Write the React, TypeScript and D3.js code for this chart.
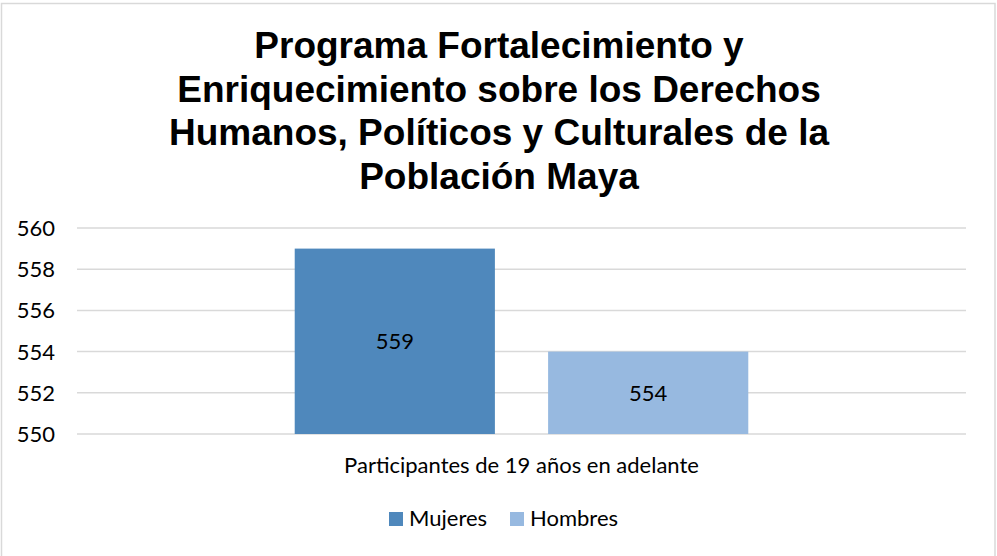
import React from 'react';
import * as d3 from 'd3';

// Chart data
const CATEGORIES = ['Participantes de 19 años en adelante'];
const SERIES = ['Mujeres', 'Hombres'];
const VALUES = [559, 554];
const Y_TICKS = [550, 552, 554, 556, 558, 560];
const TITLE_LINES = [
  'Programa Fortalecimiento y',
  'Enriquecimiento sobre los Derechos',
  'Humanos, Políticos y Culturales de la',
  'Población Maya',
];

const COLORS = ['#4f88bc', '#97b9e0'];

const W = 997;
const H = 556;
const LABEL_FONT = 'Lato, "Open Sans", sans-serif';
const TITLE_FONT = '"Liberation Sans", Arimo, Arial, Helvetica, sans-serif';

const App: React.FC = () => {
  const plot = { left: 77, right: 966, top: 228, bottom: 434 };

  const y = d3.scaleLinear().domain([550, 560]).range([plot.bottom, plot.top]);

  const x0 = d3
    .scaleBand<string>()
    .domain(CATEGORIES)
    .range([plot.left, plot.right])
    .paddingInner(0)
    .paddingOuter(0.48);

  const x1 = d3
    .scaleBand<string>()
    .domain(SERIES)
    .range([0, x0.bandwidth()])
    .paddingInner(0.21)
    .paddingOuter(0);

  const color = d3.scaleOrdinal<string>().domain(SERIES).range(COLORS);

  const catX = (x0(CATEGORIES[0]) ?? 0) + x0.bandwidth() / 2;

  // Legend layout
  const legend = [
    { name: SERIES[0], x: 389 },
    { name: SERIES[1], x: 510 },
  ];

  return (
    <svg
      width={W}
      height={H}
      style={{ position: 'absolute', left: 0, top: 0, background: '#fff' }}
    >
      <rect x={1.5} y={3.5} width={993.5} height={560} fill="#fff" stroke="#d9d9d9" strokeWidth={1.5} />

      {/* Title */}
      <text
        textAnchor="middle"
        fontFamily={TITLE_FONT}
        fontWeight="bold"
        fontSize={37}
        fill="#000"
      >
        {TITLE_LINES.map((line, i) => (
          <tspan key={i} x={499} y={58 + i * 43.5}>
            {line}
          </tspan>
        ))}
      </text>

      {/* Gridlines */}
      {Y_TICKS.map((t) => (
        <line
          key={t}
          x1={plot.left}
          x2={plot.right}
          y1={y(t)}
          y2={y(t)}
          stroke="#d9d9d9"
          strokeWidth={1.5}
        />
      ))}

      {/* Y tick labels */}
      {Y_TICKS.map((t) => (
        <text
          key={t}
          x={55}
          y={y(t)}
          dy="0.36em"
          textAnchor="end"
          fontFamily={LABEL_FONT}
          fontSize={22}
          fill="#000"
        >
          {t}
        </text>
      ))}

      {/* Bars */}
      {SERIES.map((s, i) => {
        const bx = (x0(CATEGORIES[0]) ?? 0) + (x1(s) ?? 0);
        const by = y(VALUES[i]);
        return (
          <g key={s}>
            <rect x={bx} y={by} width={x1.bandwidth()} height={plot.bottom - by} fill={color(s)} />
            <text
              x={bx + x1.bandwidth() / 2}
              y={(by + plot.bottom) / 2}
              dy="0.36em"
              textAnchor="middle"
              fontFamily={LABEL_FONT}
              fontSize={22}
              fill="#000"
            >
              {VALUES[i]}
            </text>
          </g>
        );
      })}

      {/* Category label */}
      <text x={catX} y={473} textAnchor="middle" fontFamily={LABEL_FONT} fontSize={22} fill="#000">
        {CATEGORIES[0]}
      </text>

      {/* Legend */}
      {legend.map((l) => (
        <g key={l.name} transform={`translate(${l.x},512)`}>
          <rect width={14} height={14} fill={color(l.name)} />
          <text x={20} y={13.5} fontFamily={LABEL_FONT} fontSize={22} fill="#000">
            {l.name}
          </text>
        </g>
      ))}
    </svg>
  );
};

export default App;
